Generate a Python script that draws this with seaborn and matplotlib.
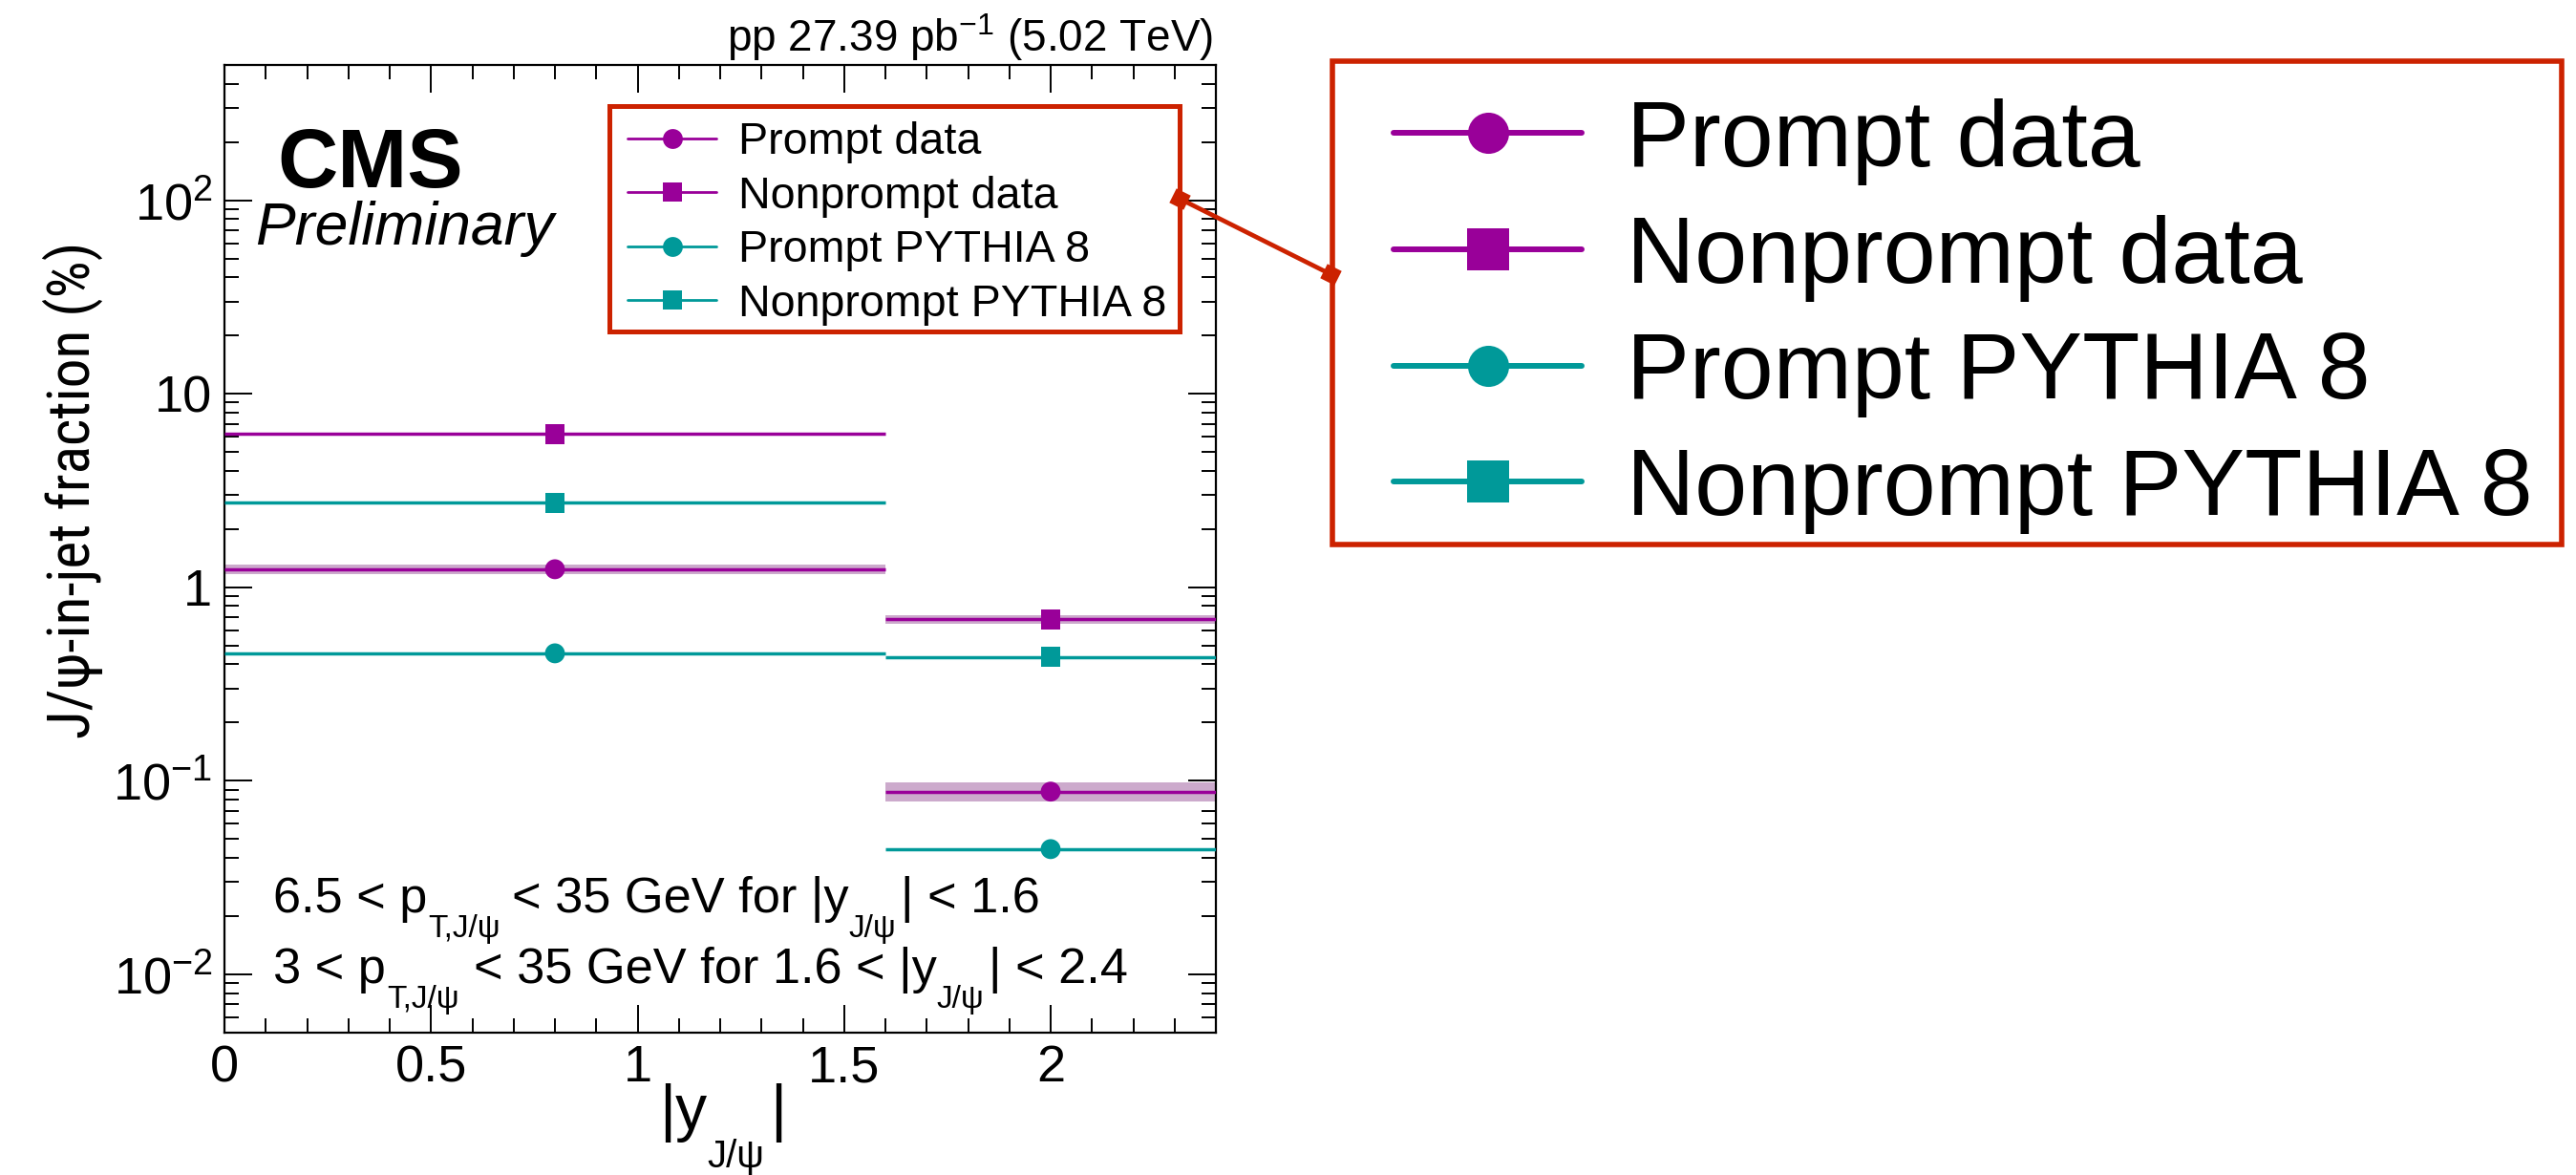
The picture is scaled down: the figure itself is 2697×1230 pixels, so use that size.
import numpy as np
import pandas as pd
import matplotlib
matplotlib.use("Agg")
import matplotlib.pyplot as plt
import seaborn as sns
from matplotlib import font_manager
from matplotlib.font_manager import FontProperties
from matplotlib.ft2font import FT2Font
from matplotlib.lines import Line2D
from matplotlib.patches import Rectangle
from matplotlib.ticker import FixedLocator, FixedFormatter, LogLocator, NullFormatter, MultipleLocator

# ---------------- data ----------------
bin_low = [0.0, 1.6]
bin_high = [1.6, 2.4]
bin_center = [0.8, 2.0]

prompt_data = [1.24, 0.088]
prompt_data_unc = [0.064, 0.0101]
nonprompt_data = [6.2, 0.684]
nonprompt_data_unc = [0.10, 0.037]
prompt_pythia = [0.456, 0.0444]
nonprompt_pythia = [2.73, 0.437]

series_labels = ["Prompt data", "Nonprompt data", "Prompt PYTHIA 8", "Nonprompt PYTHIA 8"]
x_tick_vals = [0, 0.5, 1, 1.5, 2]
x_tick_labels = ["0", "0.5", "1", "1.5", "2"]
y_tick_vals = [0.01, 0.1, 1, 10, 100]
y_tick_labels = [r"$10^{-2}$", r"$10^{-1}$", "1", "10", r"$10^{2}$"]

PURPLE = "#990099"
TEAL = "#009999"
BAND = "#CCAACC"
RED = "#CC2200"

# ---------------- style ----------------
sns.set_theme(style="white")
plt.rcParams["font.family"] = ["Liberation Sans", "DejaVu Sans"]
plt.rcParams["mathtext.fontset"] = "custom"
plt.rcParams["mathtext.rm"] = "Liberation Sans"
plt.rcParams["mathtext.it"] = "Liberation Sans"
plt.rcParams["mathtext.sf"] = "Liberation Sans"
plt.rcParams["mathtext.bf"] = "Liberation Sans:bold"
plt.rcParams["axes.unicode_minus"] = True
for k in ["text.color", "axes.labelcolor", "xtick.color", "ytick.color", "axes.edgecolor"]:
    plt.rcParams[k] = "black"
plt.rcParams["legend.labelcolor"] = "black"


def find_condensed_font():
    cands = []
    for f in font_manager.fontManager.ttflist:
        nm = f.name
        st = str(f.stretch).lower()
        is_cond = ("Narrow" in nm) or ("Condensed" in nm) or ("condensed" in st)
        if not is_cond or f.style != "normal":
            continue
        if f.weight not in (400, 500, "normal", "regular", "book", "medium"):
            continue
        try:
            cm = FT2Font(f.fname).get_charmap()
        except Exception:
            continue
        if ord("ψ") not in cm or ord("J") not in cm:
            continue
        cands.append(f)
    order = ["Liberation Sans Narrow", "Roboto Condensed", "Roboto", "DejaVu Sans", "Open Sans", "Noto Sans"]
    cands.sort(key=lambda f: next((i for i, o in enumerate(order) if f.name.startswith(o)), 99))
    return cands[0].fname if cands else None


W, H = 2697, 1230
DPI = 100
fig = plt.figure(figsize=(W / DPI, H / DPI), dpi=DPI)
renderer = fig.canvas.get_renderer()


def fx(px):
    return px / W


def fy(py):
    return 1 - py / H


ax_l, ax_r, ax_t, ax_b = 235, 1273, 68, 1081
ax = fig.add_axes([fx(ax_l), fy(ax_b), fx(ax_r - ax_l), (ax_b - ax_t) / H])
ax.set_facecolor("white")
ax.set_yscale("log")
ax.set_xlim(0, 2.4)
ax.set_ylim(0.005, 500)

# uncertainty bands
for i in range(len(bin_low)):
    xs = [bin_low[i], bin_high[i]]
    ax.fill_between(xs, prompt_data[i] - prompt_data_unc[i], prompt_data[i] + prompt_data_unc[i],
                    color=BAND, lw=0, zorder=1)
    ax.fill_between(xs, nonprompt_data[i] - nonprompt_data_unc[i], nonprompt_data[i] + nonprompt_data_unc[i],
                    color=BAND, lw=0, zorder=1)

# horizontal bin lines
series_vals = [prompt_data, nonprompt_data, prompt_pythia, nonprompt_pythia]
series_colors = [PURPLE, PURPLE, TEAL, TEAL]
series_markers = ["o", "s", "o", "s"]
for vals, col in zip(series_vals, series_colors):
    ax.hlines(vals, bin_low, bin_high, color=col, lw=2.5, zorder=3)

# markers through seaborn
rows = []
for lab, vals in zip(series_labels, series_vals):
    for xc, v in zip(bin_center, vals):
        rows.append({"x": xc, "y": v, "series": lab})
df = pd.DataFrame(rows)
sns.scatterplot(data=df, x="x", y="y", hue="series", style="series",
                palette=dict(zip(series_labels, series_colors)),
                markers=dict(zip(series_labels, series_markers)),
                s=225, linewidth=0, edgecolor="none", legend=False, ax=ax, zorder=5)

# ---------------- axes styling ----------------
for sp in ax.spines.values():
    sp.set_visible(True)
    sp.set_linewidth(1.6)
    sp.set_color("black")

ax.xaxis.set_major_locator(FixedLocator(x_tick_vals))
ax.xaxis.set_major_formatter(FixedFormatter(x_tick_labels))
ax.xaxis.set_minor_locator(MultipleLocator(0.1))
ax.yaxis.set_major_locator(FixedLocator(y_tick_vals))
ax.yaxis.set_major_formatter(FixedFormatter(y_tick_labels))
ax.yaxis.set_minor_locator(LogLocator(base=10, subs=np.arange(2, 10)))
ax.yaxis.set_minor_formatter(NullFormatter())

ax.tick_params(which="both", direction="in", top=True, right=True, bottom=True, left=True,
               colors="black", width=1.4)
ax.tick_params(which="major", length=21)
ax.tick_params(which="minor", length=10.5)
ax.tick_params(axis="x", which="major", labelsize=39, pad=9)
ax.tick_params(axis="y", which="major", labelsize=39, pad=9)
ax.set_xlabel("")

# y label (condensed font if available), sized to the reference length
cond = find_condensed_font()
if cond is not None:
    yprop = FontProperties(fname=cond, size=46)
    target_len = 520.0
else:
    yprop = FontProperties(family=["Liberation Sans", "DejaVu Sans"], size=40)
    target_len = 530.0
ylab = ax.set_ylabel("J/ψ-in-jet fraction (%)", fontproperties=yprop)
ax.yaxis.set_label_coords((108 - ax_l) / (ax_r - ax_l), (ax_b - 513) / (ax_b - ax_t))
length = ylab.get_window_extent(renderer).height
if length > 0:
    ylab.set_fontsize(ylab.get_fontsize() * target_len / length)


# ---------------- rich texts (ROOT-like low subscripts) ----------------
def rich_text(x_px, base_px, segs, **kw):
    x = x_px
    for s, size, dy, gap in segs:
        t = fig.text(fx(x), fy(base_px + dy), s, fontsize=size, ha="left", va="baseline",
                     color="black", **kw)
        bb = t.get_window_extent(renderer)
        x = x + bb.width + gap


# x-axis title |y_{J/psi}|
rich_text(690, 1182, [("|y", 47.5, 0, 0), ("J/ψ", 29, 40, 6), ("|", 47.5, 0, 0)])

# top-right luminosity text
fig.text(fx(1270), fy(54), r"pp 27.39 pb$^{-1}$ (5.02 TeV)", ha="right", va="baseline", fontsize=33)
fig.text(fx(290), fy(196), "CMS", ha="left", va="baseline", fontsize=63, fontweight="bold")
fig.text(fx(267), fy(256), "Preliminary", ha="left", va="baseline", fontsize=45, fontstyle="italic")

rich_text(286, 955, [("6.5 < p", 37.7, 0, 1), ("T,J/ψ", 24, 26, 12),
                     ("< 35 GeV for |y", 37.7, 0, 0), ("J/ψ", 24, 26, 5), ("| < 1.6", 37.7, 0, 0)])
rich_text(286, 1029, [("3 < p", 37.7, 0, 1), ("T,J/ψ", 24, 26, 15),
                      ("< 35 GeV for 1.6 < |y", 37.7, 0, 0), ("J/ψ", 24, 26, 5), ("| < 2.4", 37.7, 0, 0)])


# ---------------- legends ----------------
def make_handles(lw, ms):
    return [Line2D([], [], color=c, lw=lw, marker=m, ms=ms, mew=0)
            for c, m in zip(series_colors, series_markers)]


leg_in = ax.legend(make_handles(2.0, 15), series_labels, loc="upper left",
                   bbox_to_anchor=(fx(657), fy(127)), bbox_transform=fig.transFigure,
                   borderaxespad=0, fontsize=33.6, handlelength=2.0, handletextpad=0.49,
                   labelspacing=0.27, borderpad=0, numpoints=1, frameon=False)
for t in leg_in.get_texts():
    t.set_color("black")
fig.add_artist(Rectangle((fx(638), fy(347)), fx(1235 - 638), (347 - 111) / H,
                         transform=fig.transFigure, fill=False, edgecolor=RED, lw=3.6, zorder=6))

leg_out = fig.legend(make_handles(4.3, 31), series_labels, loc="upper left",
                     bbox_to_anchor=(fx(1459), fy(103)), bbox_transform=fig.transFigure,
                     borderaxespad=0, fontsize=71, handlelength=2.0, handletextpad=0.47,
                     labelspacing=0.31, borderpad=0, numpoints=1, frameon=False)
for t in leg_out.get_texts():
    t.set_color("black")
fig.add_artist(Rectangle((fx(1395), fy(570)), fx(2682 - 1395), (570 - 64) / H,
                         transform=fig.transFigure, fill=False, edgecolor=RED, lw=4.0, zorder=6))

# connector between the two legends
conn = Line2D([fx(1235), fx(1393)], [fy(208), fy(287)], transform=fig.transFigure,
              color=RED, lw=3.4, marker=(4, 0, 18.4), ms=17, mew=0, mfc=RED, zorder=10)
fig.add_artist(conn)

fig.savefig("out.png", dpi=DPI, facecolor="white")
